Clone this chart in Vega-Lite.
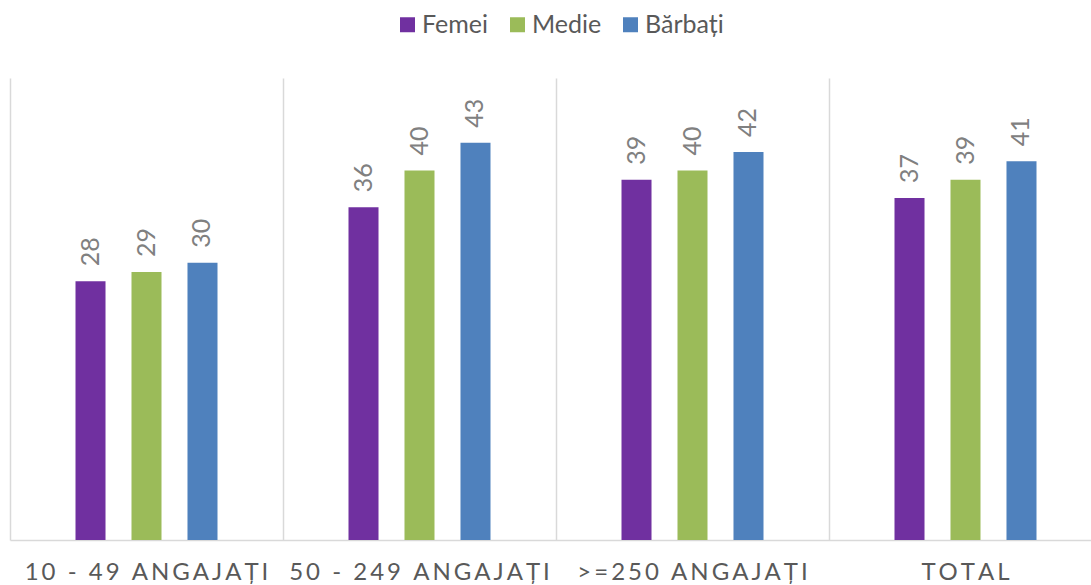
{
  "$schema": "https://vega.github.io/schema/vega-lite/v6.json",
  "width": 1081,
  "height": 462,
  "autosize": "none",
  "padding": {"left": 10, "top": 78, "right": 0, "bottom": 45},
  "background": "white",
  "config": {"view": {"stroke": null}, "font": "Lato"},
  "data": {
    "values": [
      {"cat": "10 - 49 ANGAJAȚI", "serie": "Femei", "val": 28},
      {"cat": "10 - 49 ANGAJAȚI", "serie": "Medie", "val": 29},
      {"cat": "10 - 49 ANGAJAȚI", "serie": "Bărbați", "val": 30},
      {"cat": "50 - 249 ANGAJAȚI", "serie": "Femei", "val": 36},
      {"cat": "50 - 249 ANGAJAȚI", "serie": "Medie", "val": 40},
      {"cat": "50 - 249 ANGAJAȚI", "serie": "Bărbați", "val": 43},
      {"cat": ">=250 ANGAJAȚI", "serie": "Femei", "val": 39},
      {"cat": ">=250 ANGAJAȚI", "serie": "Medie", "val": 40},
      {"cat": ">=250 ANGAJAȚI", "serie": "Bărbați", "val": 42},
      {"cat": "TOTAL", "serie": "Femei", "val": 37},
      {"cat": "TOTAL", "serie": "Medie", "val": 39},
      {"cat": "TOTAL", "serie": "Bărbați", "val": 41}
    ]
  },
  "encoding": {
    "x": {
      "field": "cat",
      "type": "nominal",
      "sort": null,
      "scale": {"range": [0, 1092], "paddingInner": 0, "paddingOuter": 0},
      "axis": {
        "title": null,
        "labelAngle": 0,
        "labelFontSize": 24,
        "labelColor": "#595959",
        "labelPadding": 20,
        "labelLimit": 0,
        "labelExpr": "replace(datum.label, regexp('(.)(?!$)', 'g'), '$1\u2009')",
        "ticks": false,
        "grid": true,
        "bandPosition": 0,
        "gridColor": "#d9d9d9",
        "gridWidth": 1.5,
        "domainColor": "#d9d9d9",
        "domainWidth": 1.5
      }
    },
    "xOffset": {
      "field": "serie",
      "type": "nominal",
      "sort": ["Femei", "Medie", "Bărbați"],
      "scale": {"range": [65.5, 207.5], "paddingInner": 0.464, "paddingOuter": 0}
    },
    "y": {
      "field": "val",
      "type": "quantitative",
      "scale": {"domain": [0, 50], "nice": false},
      "axis": null
    }
  },
  "layer": [
    {
      "mark": {"type": "bar"},
      "encoding": {
        "color": {
          "field": "serie",
          "type": "nominal",
          "sort": ["Femei", "Medie", "Bărbați"],
          "scale": {"domain": ["Femei", "Medie", "Bărbați"], "range": ["#7030a0", "#9bbb59", "#4f81bd"]},
          "legend": {
            "title": null,
            "orient": "none",
            "direction": "horizontal",
            "legendX": 385,
            "legendY": -66,
            "symbolType": "square",
            "symbolSize": 225,
            "symbolStrokeWidth": 0,
            "labelFontSize": 25,
            "labelColor": "#595959",
            "labelOffset": 2,
            "columnPadding": 16,
            "padding": 0
          }
        }
      }
    },
    {
      "mark": {"type": "text", "angle": 270, "align": "left", "baseline": "middle", "dx": 15, "fontSize": 25, "color": "#808080"},
      "encoding": {
        "text": {"field": "val", "type": "quantitative"}
      }
    }
  ]
}
